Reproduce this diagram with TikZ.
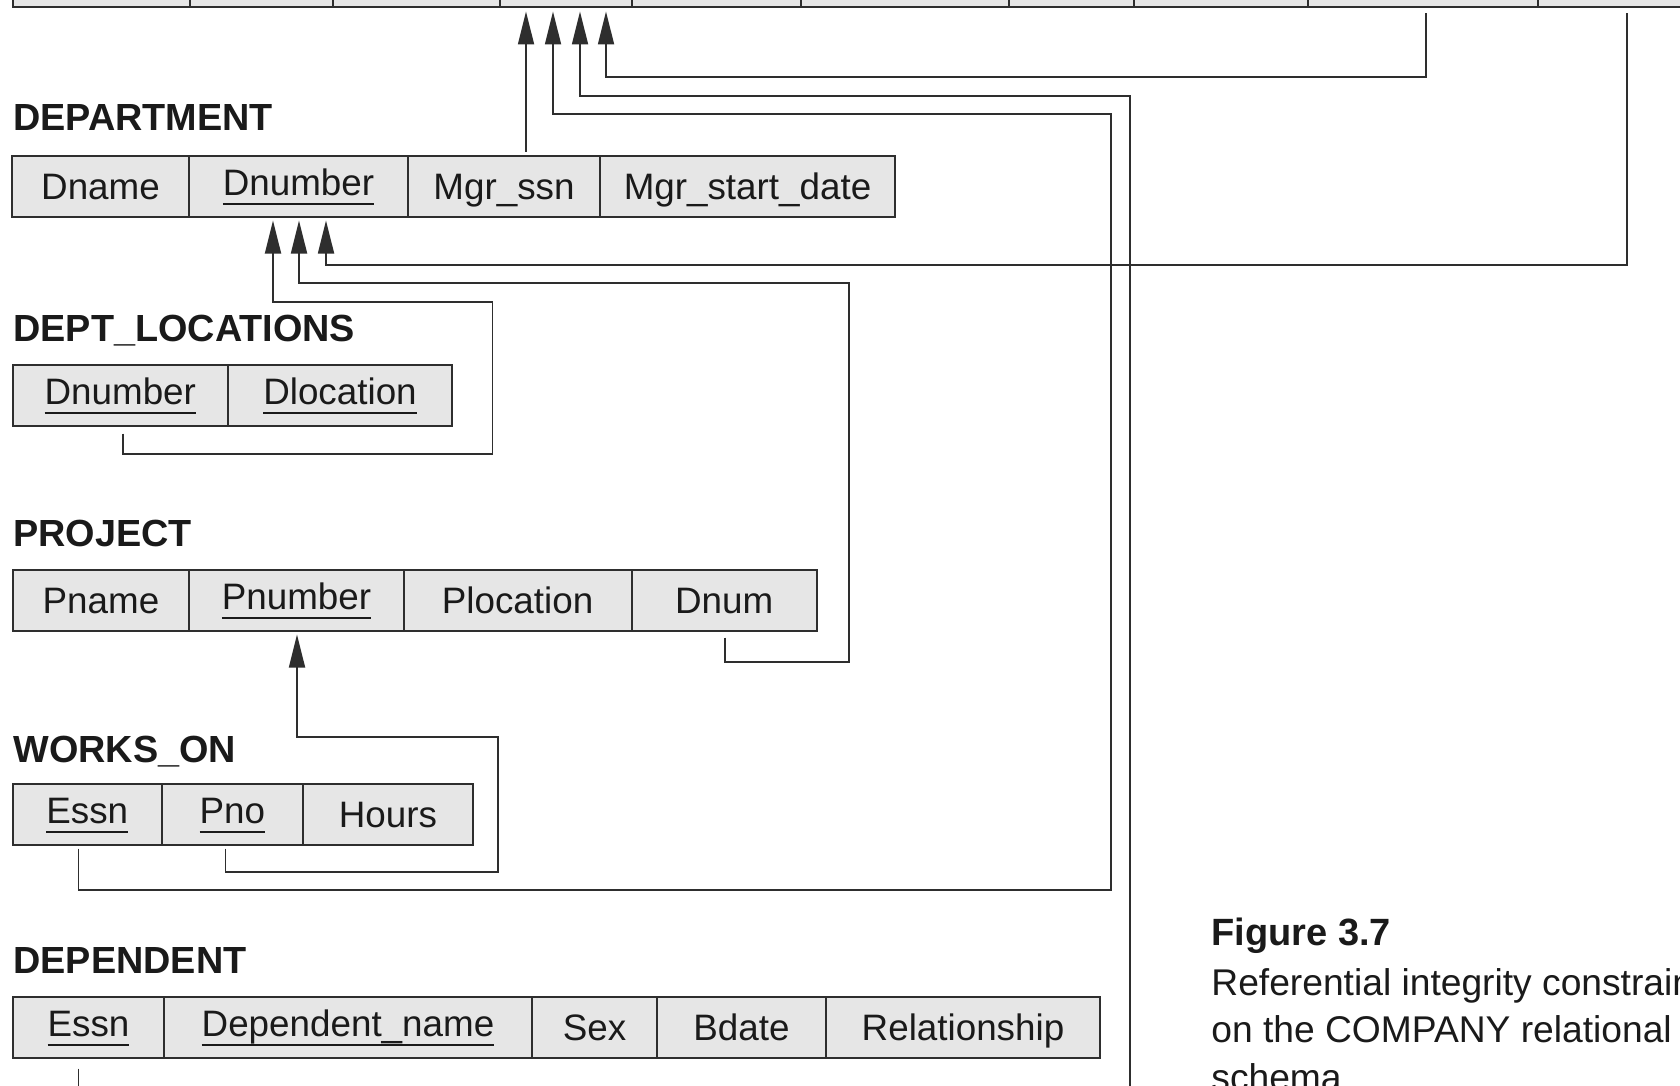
\documentclass[tikz,border=0pt]{standalone}
\usepackage{fontspec}
\setmainfont{Liberation Sans}
\usetikzlibrary{arrows.meta,calc}
\definecolor{cellfill}{HTML}{E6E6E6}
\definecolor{linecol}{HTML}{2E2E2E}
\definecolor{txtcol}{HTML}{1A1A1A}
\newcommand{\keyu}[1]{\setbox0=\hbox{#1}\rlap{\rule[-4.5pt]{\wd0}{1pt}}\box0}
\newcommand{\tabsize}{\fontsize{18.4pt}{22pt}\selectfont}
\newcommand{\labsize}{\fontsize{18.9pt}{22pt}\selectfont\bfseries}
\begin{document}
\begin{tikzpicture}[x=0.5pt,y=-0.5pt,
  cell/.style={draw=linecol, fill=cellfill, line width=1pt, inner sep=0pt,
    minimum height=30.5pt, text height=13.5pt, text depth=0pt, font=\tabsize, text=txtcol},
  keycell/.style={cell, text height=9.5pt},
  tlabel/.style={anchor=base west, inner sep=0pt, font=\labsize, text=txtcol},
  figlabel/.style={anchor=base west, inner sep=0pt, font=\fontsize{19pt}{22pt}\selectfont\bfseries, text=txtcol},
  captext/.style={anchor=base west, inner sep=0pt, font=\fontsize{18.6pt}{22pt}\selectfont, text=txtcol},
  conn/.style={draw=linecol, line width=0.9pt},
  arr/.style={conn, -{Triangle[length=16.5pt,width=8pt]}}
]
\useasboundingbox (0,0) rectangle (1680,1086);
\fill[white] (0,0) rectangle (1680,1086);
\begin{scope}
\clip (0,0) rectangle (1680,1086);

% EMPLOYEE (cut off at the top)
\node[cell, minimum width=88.5pt]  (efname) at (101.5,-23) {};
\node[cell, minimum width=71.5pt]  (eminit) at (261.5,-23) {};
\node[cell, minimum width=83.5pt]  (elname) at (416.5,-23) {};
\node[cell, minimum width=66pt]    (essn)   at (566,-23) {};
\node[cell, minimum width=84.5pt]  (ebdate) at (716.5,-23) {};
\node[cell, minimum width=104pt]   (eaddr)  at (905,-23) {};
\node[cell, minimum width=62.5pt]  (esex)   at (1071.5,-23) {};
\node[cell, minimum width=87pt]    (esal)   at (1221,-23) {};
\node[cell, minimum width=115pt]   (esuper) at (1423,-23) {};
\node[cell, minimum width=89pt]    (edno)   at (1627,-23) {};

% DEPARTMENT
\node[tlabel] (lbdept) at (13,131) {DEPARTMENT};
\node[cell, minimum width=88.5pt]  (ddname)   at (100.5,186) {Dname};
\node[keycell, minimum width=109.5pt] (ddnum) at (298.5,186) {\keyu{Dnumber}};
\node[cell, minimum width=96pt]    (dmgr)     at (504,186) {Mgr\_ssn};
\node[cell, minimum width=147.5pt] (dmgrdate) at (747.5,186) {Mgr\_start\_date};

% DEPT_LOCATIONS
\node[tlabel] (lbloc) at (13,341) {DEPT\_LOCATIONS};
\node[keycell, minimum width=107.7pt] (ldnum) at (120.3,395) {\keyu{Dnumber}};
\node[keycell, minimum width=112pt]   (ldloc) at (340,395) {\keyu{Dlocation}};

% PROJECT
\node[tlabel] (lbproj) at (13,546) {PROJECT};
\node[cell, minimum width=88.4pt]     (ppname) at (101,600) {Pname};
\node[keycell, minimum width=107.1pt] (ppnum)  at (296.5,600) {\keyu{Pnumber}};
\node[cell, minimum width=113.95pt]   (pploc)  at (517.55,600) {Plocation};
\node[cell, minimum width=92.75pt]    (pdnum)  at (724.25,600) {Dnum};

% WORKS_ON
\node[tlabel] (lbworks) at (13,762) {WORKS\_ON};
\node[keycell, minimum width=74.25pt] (wessn)  at (87.25,814) {\keyu{Essn}};
\node[keycell, minimum width=70.75pt] (wpno)   at (232.25,814) {\keyu{Pno}};
\node[cell, minimum width=85pt]       (whours) at (388,814) {Hours};

% DEPENDENT
\node[tlabel] (lbdep) at (13,973) {DEPENDENT};
\node[keycell, minimum width=75.5pt] (depessn)  at (88.5,1027) {\keyu{Essn}};
\node[keycell, minimum width=184pt]  (depname)  at (348,1027) {\keyu{Dependent\_name}};
\node[cell, minimum width=62.5pt]    (depsex)   at (594.5,1027) {Sex};
\node[cell, minimum width=84.5pt]    (depbdate) at (741.5,1027) {Bdate};
\node[cell, minimum width=137pt]     (deprel)   at (963,1027) {Relationship};

% bend points
\coordinate (b1) at (606,77);
\coordinate (b2) at (326,265);
\coordinate (b4a) at (1111,890);
\coordinate (b4b) at (553,114);
\coordinate (b5a) at (1130,1110);
\coordinate (b5b) at (580,96);
\coordinate (b6a) at (498,872);
\coordinate (b6b) at (297,737);
\coordinate (b7a) at (849,662);
\coordinate (b7b) at (299,283);
\coordinate (b8a) at (492.5,454);
\coordinate (b8b) at (273,302);

% connectors
\draw[arr] ($(esuper.south)+(3,5)$) |- (b1) -- ($(essn.south)+(40,3)$);
\draw[arr] ($(edno.south)+(0,5)$) |- (b2) -- ($(ddnum.south)+(27.5,3)$);
\draw[arr] ($(dmgr.north)+(22,-3)$) -- ($(essn.south)+(-40,3)$);
\draw[arr] ($(wessn.south)+(-8.75,3)$) |- (b4a) |- (b4b) -- ($(essn.south)+(-13,3)$);
\draw[arr] ($(depessn.south)+(-10,10)$) |- (b5a) |- (b5b) -- ($(essn.south)+(14,3)$);
\draw[arr] ($(wpno.south)+(-6.75,3)$) |- (b6a) |- (b6b) -- ($(ppnum.south)+(0.5,3)$);
\draw[arr] ($(pdnum.south)+(0.75,6)$) |- (b7a) |- (b7b) -- ($(ddnum.south)+(0.5,3)$);
\draw[arr] ($(ldnum.south)+(2.7,7)$) |- (b8a) |- (b8b) -- ($(ddnum.south)+(-25.5,3)$);

% caption
\node[figlabel] (figno) at (1211,945) {Figure 3.7};
\node[captext] (cap1) at (1211,995) {Referential integrity constraints displayed};
\node[captext] (cap2) at (1211,1042.5) {on the COMPANY relational database};
\node[captext] (cap3) at (1211,1090) {schema.};
\end{scope}
\end{tikzpicture}
\end{document}
